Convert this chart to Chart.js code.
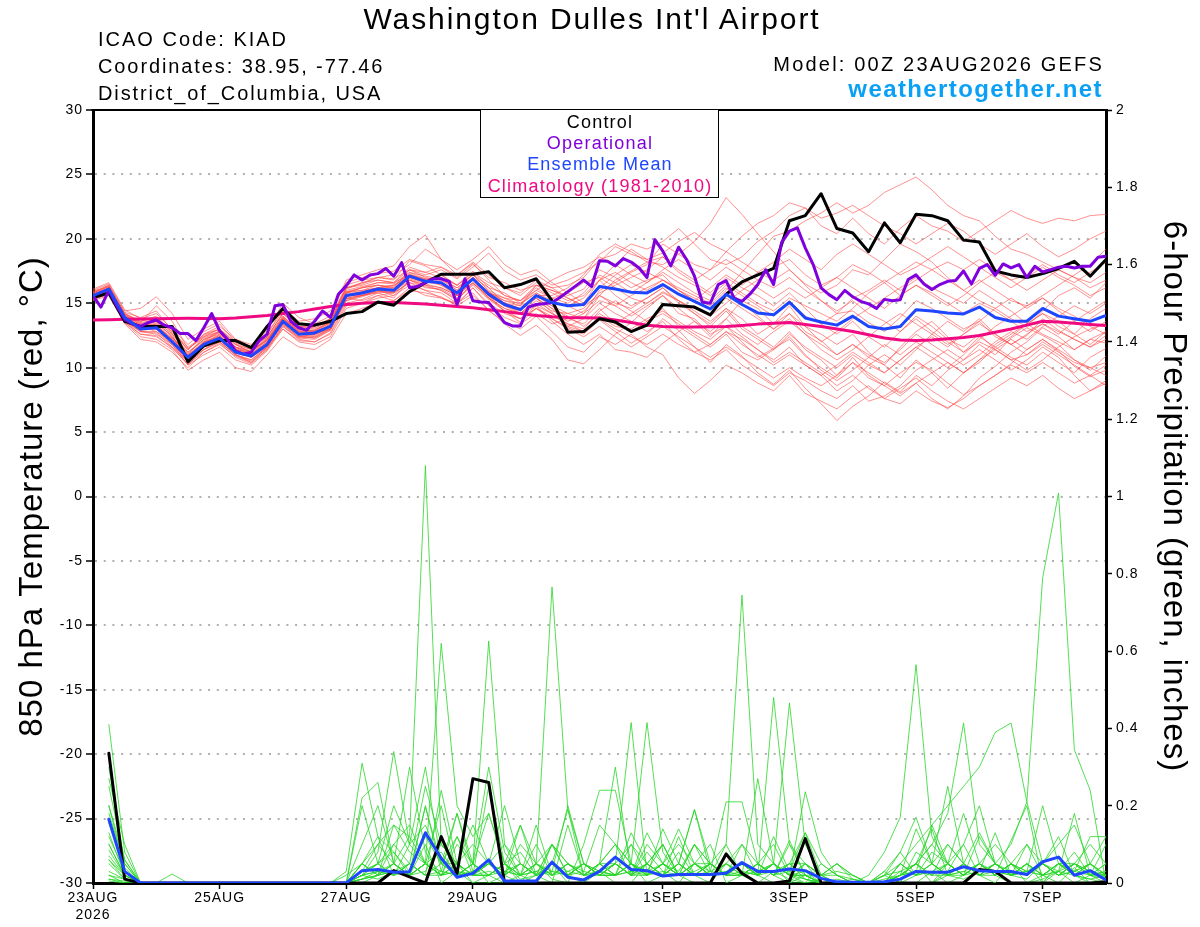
<!DOCTYPE html>
<html><head><meta charset="utf-8">
<script src="https://cdn.jsdelivr.net/npm/chart.js@4.4.1/dist/chart.umd.min.js"></script>
<style>
html,body{margin:0;padding:0;background:#fff;}
#wrap{position:relative;width:1200px;height:927px;overflow:hidden;font-family:"Liberation Sans",Arial,Helvetica,sans-serif;color:#000;}
#c{position:absolute;left:0;top:0;}
.t{position:absolute;white-space:nowrap;line-height:1;}
.lg{left:480px;width:240px;text-align:center;font-size:18px;letter-spacing:1.2px;}
</style></head><body>
<div id="wrap">
<canvas id="c" width="1200" height="927"></canvas>
<div class="t" style="left:0;width:1184px;text-align:center;top:4px;font-size:30px;letter-spacing:1.9px;">Washington Dulles Int'l Airport</div>
<div class="t" style="left:98px;top:29px;font-size:20px;letter-spacing:2px;">ICAO Code: KIAD</div>
<div class="t" style="left:98px;top:56px;font-size:20px;letter-spacing:1.9px;">Coordinates: 38.95, -77.46</div>
<div class="t" style="left:98px;top:83px;font-size:20px;letter-spacing:1.9px;">District_of_Columbia, USA</div>
<div class="t" style="right:96px;top:54px;font-size:20px;letter-spacing:2.2px;">Model: 00Z 23AUG2026 GEFS</div>
<div class="t" style="right:97px;top:77px;font-size:24px;font-weight:bold;letter-spacing:1.4px;color:#0aa0f5;">weathertogether.net</div>
<div style="position:absolute;left:480px;top:109px;width:237px;height:87px;border:1.5px solid #000;background:#fff;"></div>
<div class="t lg" style="top:113px;color:#000;">Control</div>
<div class="t lg" style="top:134px;color:rgb(127,0,220);">Operational</div>
<div class="t lg" style="top:155px;color:rgb(30,70,255);">Ensemble Mean</div>
<div class="t lg" style="top:176.5px;color:rgb(240,10,130);">Climatology (1981-2010)</div>
</div>
<script>
// ---------- time categories ----------
const hours6 = Array.from({length:65},(_,i)=>6*i);        // 0..384 h
const hours3 = Array.from({length:129},(_,i)=>3*i);       // 0..384 h
const precipHours = Array.from({length:64},(_,i)=>6*(i+1)); // 6..384 h
const tickHours = [0,48,96,144,216,264,312,360];
const tickLabels = [['23AUG','2026'],'25AUG','27AUG','29AUG','1SEP','3SEP','5SEP','7SEP'];

// ---------- 850 hPa temperature (°C) ----------
const tempControl = [15.44,15.8,13.6,13.2, 13.2,13.2,10.45,11.7, 12.1,12.1,11.55,13.2, 14.6,13.4,13.3,13.6, 14.2,14.35,15.1,14.85, 15.9,16.6,17.25,17.25, 17.25,17.45,16.2,16.45, 16.9,15.2,12.75,12.8, 13.8,13.55,12.8,13.3, 14.9,14.8,14.7,14.1, 15.7,16.65,17.2,17.7, 21.4,21.8,23.5,20.8, 20.45,19.0,21.24,19.7, 21.9,21.8,21.4,19.9, 19.75,17.5,17.2,17.0, 17.3,17.7,18.25,17.1, 18.4];
const tempMean = [15.6,16.1,13.9,13.0, 13.1,12.0,10.8,11.8, 12.3,11.2,10.9,11.8, 13.6,12.6,12.7,13.2, 15.6,15.8,16.1,16.0, 17.1,16.7,16.6,15.8, 16.9,15.7,14.9,14.5, 15.6,15.05,14.8,14.9, 16.3,16.1,15.85,15.8, 16.45,15.7,15.15,14.56, 15.7,14.9,14.25,14.1, 15.08,13.86,13.55,13.3, 14.0,13.2,13.0,13.2, 14.5,14.4,14.25,14.17, 14.7,13.9,13.6,13.6, 14.6,14.0,13.8,13.6, 14.05];
const tempClimo = [13.7,13.72,13.75,13.78, 13.8,13.82,13.83,13.82, 13.8,13.85,13.95,14.05, 14.2,14.35,14.55,14.75, 14.9,15.0,15.05,15.05, 15.0,14.95,14.85,14.75, 14.65,14.5,14.35,14.2, 14.05,13.95,13.9,13.88, 13.85,13.7,13.5,13.3, 13.2,13.15,13.15,13.18, 13.2,13.28,13.38,13.45, 13.5,13.35,13.2,13.0, 12.8,12.55,12.3,12.15, 12.1,12.15,12.25,12.35, 12.5,12.75,13.0,13.3, 13.6,13.55,13.45,13.35, 13.27];
const tempOper = [15.57,14.7,16.0,14.8,13.75,13.4,13.2,13.5, 13.7,13.3,13.1,12.65,12.65,12.1,13.1,14.2, 12.85,12.2,11.3,11.05,11.2,12.1,12.6,14.8, 14.9,13.6,13.1,12.9,13.6,14.4,13.9,15.7, 16.35,17.2,16.8,17.2,17.3,17.7,17.1,18.15, 16.2,16.3,16.6,16.9,16.9,16.7,14.9,16.9, 15.2,15.1,15.05,14.3,13.5,13.24,13.24,14.7, 14.9,14.97,15.05,15.45,15.9,16.35,16.8,16.3, 18.3,18.26,17.9,18.47,18.2,17.74,17.0,19.94, 19.04,17.9,19.35,18.4,17.1,15.08,15.0,16.45, 16.76,15.4,15.15,15.7,16.45,17.6,16.45,19.7, 20.6,20.85,19.3,18.0,16.2,15.67,15.28,16.0, 15.5,15.15,14.95,14.6,15.3,15.2,15.28,16.84, 17.2,16.5,16.06,16.45,16.7,16.76,17.5,16.5, 17.7,18.0,17.17,18.05,17.74,18.0,17.0,17.87, 17.43,17.6,17.8,17.87,17.74,17.87,17.87,18.57, 18.65];

// ensemble members (6-hourly)
const t01 = [15.8,16.4,14.2,13.5, 14.8,13.6,11.5,12.3, 12.8,11.8,11.2,12.4, 14.2,13.0,12.8,13.5, 16.2,16.5,17.0,16.8, 18.3,17.9,17.2,16.4, 17.5,16.2,15.0,14.2, 15.4,14.3,13.2,13.8, 15.6,16.8,17.5,18.2, 18.0,18.8,19.8,21.2, 23.2,21.9,20.4,19.0, 17.6,16.4,15.2,14.2, 14.4,13.5,12.8,13.9, 15.2,14.6,13.8,13.0, 13.6,12.4,11.8,12.5, 13.8,12.9,12.2,11.6, 12.5];
const t02 = [15.4,15.9,13.7,12.8, 12.6,11.8,10.2,11.0, 11.6,10.6,10.2,11.3, 13.0,12.1,12.0,12.7, 15.0,15.3,15.8,15.4, 16.8,16.2,16.1,15.4, 16.5,15.6,14.4,13.5, 14.6,13.8,13.1,12.6, 13.7,12.8,11.9,12.6, 13.8,12.9,11.6,10.4, 11.8,10.9,9.6,8.7, 9.8,8.4,7.2,5.9, 7.0,7.8,8.9,8.1, 9.4,8.6,9.8,10.6, 11.8,11.0,12.3,13.1, 12.5,11.8,10.6,9.8, 10.9];
const t03 = [16.0,16.5,14.4,14.6, 15.5,14.2,12.2,13.0, 13.6,12.2,11.6,12.9, 15.0,13.9,13.4,14.0, 16.8,17.2,17.6,17.9, 19.4,20.3,18.4,17.2, 18.1,16.8,15.6,15.2, 16.4,16.0,15.6,16.1, 17.6,17.0,16.2,16.8, 17.2,16.0,15.4,14.8, 16.0,17.4,18.8,20.2, 20.6,21.4,22.0,22.8, 22.0,22.6,23.6,24.2, 24.8,23.8,22.6,21.8, 21.4,20.2,19.2,18.8, 18.2,17.6,17.0,16.6, 17.4];
const t04 = [15.3,15.7,13.5,12.4, 12.2,11.4,9.8,10.6, 11.2,10.0,9.7,11.0, 12.4,11.6,11.4,12.2, 14.2,14.6,15.0,15.2, 16.0,15.8,15.5,14.8, 15.6,14.5,13.4,12.5, 13.3,12.2,10.6,10.3, 11.4,12.6,13.5,14.6, 15.6,14.2,13.8,12.6, 13.2,12.0,10.8,11.5, 12.2,10.9,10.0,9.2, 10.4,9.2,8.6,9.6, 10.4,9.8,8.8,7.9, 8.6,9.4,10.3,11.4, 12.2,11.3,10.1,9.3, 9.8];
const t05 = [15.7,16.2,14.0,13.1, 13.6,12.6,11.2,12.2, 12.6,11.5,11.0,12.0, 13.8,12.9,13.2,13.8, 16.1,16.6,17.0,16.9, 17.6,17.2,17.6,16.9, 17.8,18.9,17.5,16.8, 17.2,16.4,16.8,17.4, 18.2,19.4,18.8,18.4, 18.9,19.8,20.5,19.6, 19.0,18.2,17.4,16.8, 17.6,16.5,15.8,16.4, 17.6,17.2,18.4,19.6, 19.0,18.2,17.0,16.0, 15.2,14.6,13.8,13.2, 14.4,15.6,16.2,15.4, 16.6];
const t06 = [15.5,16.0,13.8,13.0, 13.4,12.5,10.6,11.6, 12.4,11.4,11.2,12.2, 13.4,12.4,12.6,13.0, 15.4,15.2,15.6,15.8, 16.6,16.0,15.4,14.9, 16.2,15.0,14.2,13.8, 14.8,13.6,12.6,11.8, 12.6,11.4,11.2,10.8, 11.9,12.8,13.6,12.4, 13.8,15.2,14.6,13.4, 14.2,12.8,12.1,11.0, 11.8,10.8,10.2,11.6, 12.8,13.6,12.4,11.2, 12.4,11.6,10.8,10.2, 11.2,10.4,9.6,10.8, 11.5];
const t07 = [15.9,16.3,14.1,13.3, 13.0,12.3,11.0,12.4, 13.0,11.9,11.4,12.1, 14.0,12.8,12.6,13.4, 15.9,16.0,16.4,16.3, 17.4,16.9,17.0,16.0, 17.3,15.9,15.2,15.0, 16.0,15.4,15.8,16.6, 17.0,16.2,15.4,15.0, 15.9,15.2,14.4,13.6, 14.6,13.2,12.4,11.6, 12.8,11.4,10.6,9.4, 10.8,9.4,8.6,7.8, 8.8,7.6,6.8,7.8, 9.2,10.1,11.2,12.0, 13.1,12.4,11.4,12.2, 11.9];
const t08 = [15.6,16.1,13.6,12.9, 13.4,12.0,10.4,11.4, 12.0,11.0,10.4,11.6, 13.6,12.5,12.3,13.0, 15.2,15.6,16.0,15.6, 16.8,16.4,16.0,15.2, 16.6,15.4,14.6,14.2, 15.2,14.4,14.2,14.6, 15.8,16.4,17.0,17.6, 18.6,17.4,16.6,15.8, 17.0,16.2,15.6,14.8, 15.8,14.6,13.4,12.6, 13.6,12.4,11.6,12.8, 14.0,13.2,12.2,11.6, 12.6,11.4,10.6,11.0, 12.0,11.2,10.4,10.0, 10.4];
const t09 = [15.2,15.6,13.4,12.2, 12.0,11.2,10.0,11.2, 11.9,10.8,10.3,11.4, 13.2,12.2,12.0,12.6, 14.8,15.0,15.4,15.6, 16.4,16.0,15.8,15.0, 16.2,14.8,13.9,13.4, 14.2,13.4,13.8,14.4, 15.6,15.0,14.6,15.4, 16.2,15.2,14.2,13.4, 14.6,13.8,12.6,13.4, 14.8,13.2,12.6,11.8, 12.6,11.2,10.2,9.2, 10.6,9.6,8.4,9.6, 10.6,11.8,12.6,13.4, 14.2,13.6,12.6,11.8, 12.8];
const t10 = [16.1,16.6,14.5,13.8, 14.2,13.0,11.8,12.8, 13.4,12.0,11.6,12.6, 14.6,13.6,13.8,14.4, 16.6,17.0,17.3,17.5, 18.4,18.0,17.8,17.2, 18.2,17.2,16.2,15.6, 16.6,16.2,16.4,17.0, 18.4,18.8,19.6,19.2, 19.8,20.8,19.6,18.4, 18.0,18.6,19.8,20.6, 21.8,22.4,21.0,20.4, 21.6,20.4,19.6,20.8, 21.8,21.0,20.6,19.8, 20.6,21.4,22.2,21.6, 21.2,21.6,21.4,21.8, 21.9];
const t11 = [15.5,15.9,13.9,12.9, 13.0,11.8,10.6,12.0, 12.8,11.2,10.8,11.9, 13.7,12.6,12.4,13.1, 15.5,15.7,16.2,16.4, 17.0,16.6,17.2,16.4, 17.2,16.0,15.4,14.9, 15.8,15.0,14.8,14.2, 15.2,14.8,15.6,16.2, 16.8,16.2,15.6,15.0, 16.2,15.0,14.0,13.0, 14.2,13.2,12.0,12.8, 13.8,14.6,15.4,16.2, 17.0,16.2,15.6,15.0, 16.0,15.2,14.4,13.4, 12.6,12.0,11.4,12.2, 12.8];
const t12 = [15.8,16.3,14.3,13.9, 14.4,12.9,11.4,12.6, 13.2,12.2,11.8,12.6, 14.4,13.2,13.0,13.8, 16.4,16.8,17.0,17.2, 18.0,19.2,18.4,17.6, 18.4,19.4,18.0,17.2, 17.6,16.6,15.8,15.0, 16.8,18.0,19.2,18.4, 17.8,17.0,16.4,15.6, 16.6,15.8,15.0,14.4, 15.4,14.8,14.2,13.6, 14.6,15.8,16.6,17.4, 18.2,17.6,16.8,16.0, 16.8,16.0,15.2,14.8, 15.6,16.4,17.2,18.0, 19.2];
const t13 = [15.3,15.8,13.6,12.6, 12.4,11.6,10.2,11.4, 12.2,11.0,10.6,11.6, 13.0,12.0,11.8,12.4, 14.6,15.0,15.6,15.2, 16.2,15.6,15.4,15.0, 15.8,14.4,13.6,13.0, 14.0,12.8,11.6,11.2, 12.4,11.8,12.6,11.6, 11.0,9.2,8.0,9.0, 10.2,9.6,8.8,8.2, 9.4,8.0,7.4,6.8, 7.8,8.6,7.6,8.4, 9.2,8.2,7.4,6.8, 7.6,8.4,9.2,8.6, 9.4,8.4,7.6,8.2, 9.0];
const t14 = [15.6,16.0,14.0,13.4, 13.8,12.8,11.6,12.4, 12.8,11.8,11.2,12.2, 13.8,12.8,12.9,13.5, 15.8,16.2,16.6,16.6, 17.2,16.8,16.8,16.2, 17.0,15.6,15.0,14.6, 15.6,14.8,13.8,13.4, 14.6,13.4,12.8,13.6, 14.6,13.2,12.4,11.6, 12.6,11.2,10.6,11.4, 12.4,11.0,9.8,9.0, 9.8,10.8,11.8,11.0, 12.0,11.2,10.4,9.6, 10.4,11.6,12.4,13.4, 14.2,13.2,12.6,13.8, 14.6];
const t15 = [15.4,15.9,13.8,13.2, 12.8,12.0,10.9,12.0, 12.4,11.4,10.8,11.7, 13.4,12.4,12.5,13.2, 15.6,15.6,15.8,15.9, 17.2,16.8,16.6,15.8, 16.8,15.4,14.6,14.2, 14.8,14.2,13.6,14.2, 16.0,16.6,17.4,18.0, 19.6,18.8,18.0,17.6, 19.0,20.2,21.2,21.8, 22.8,22.4,21.6,22.0, 22.6,21.8,21.0,20.4, 19.6,20.4,21.2,20.6, 19.6,18.8,19.6,20.4, 19.4,18.6,19.2,20.0, 20.6];
const t16 = [15.7,16.2,14.1,13.4, 13.3,12.2,11.0,11.9, 12.5,11.3,11.0,12.0, 13.9,12.7,12.8,13.3, 15.7,15.9,16.2,16.2, 17.3,16.8,16.5,15.6, 16.8,15.8,15.2,14.8, 15.4,14.6,13.2,12.8, 14.0,13.2,13.0,13.8, 14.4,13.6,12.8,12.2, 13.2,12.4,11.4,10.6, 11.6,10.2,9.4,8.2, 9.0,10.2,11.0,10.2, 11.4,12.6,13.6,12.8, 13.8,12.6,11.8,12.6, 13.4,12.6,13.6,14.4, 15.2];
const t17 = [15.5,16.0,13.7,12.8, 12.7,11.6,10.5,11.6, 12.0,11.0,10.5,11.5, 13.3,12.3,12.4,13.0, 15.3,15.6,16.0,16.0, 16.9,16.5,16.2,15.6, 16.6,15.5,14.8,14.4, 15.6,15.6,16.2,17.2, 18.8,19.6,19.0,18.2, 18.6,17.6,16.8,17.6, 18.4,17.6,16.8,17.8, 18.4,17.2,16.4,17.0, 18.0,17.4,16.6,15.6, 16.4,15.8,15.0,14.2, 15.0,14.4,13.6,12.8, 13.4,12.8,12.2,11.6, 12.2];
const t18 = [15.9,16.4,14.2,13.6, 13.9,12.7,11.4,12.6, 13.0,11.8,11.4,12.4, 14.2,13.2,13.2,13.8, 16.2,16.4,16.8,16.6, 17.6,17.4,17.8,17.0, 18.0,17.0,16.6,16.0, 16.4,15.8,15.2,15.6, 16.8,15.6,14.8,15.4, 16.2,15.0,14.2,13.2, 14.4,13.0,12.2,11.4, 12.6,11.6,10.8,10.0, 11.0,10.2,9.6,10.6, 11.6,10.8,10.0,11.0, 12.2,13.2,14.0,14.8, 15.4,14.6,14.0,13.2, 12.6];
const t19 = [15.4,15.8,13.9,13.1, 13.2,12.2,10.8,11.6, 12.1,11.2,10.8,11.6, 13.5,12.6,12.6,13.0, 15.4,15.6,16.0,15.8, 17.0,16.8,16.6,15.8, 16.8,15.8,15.4,15.2, 16.0,16.8,17.4,17.8, 18.6,18.0,17.2,16.6, 17.4,16.6,15.8,15.2, 16.4,15.6,14.8,14.0, 15.2,14.0,13.4,14.2, 15.4,16.0,16.8,16.0, 16.8,17.6,18.2,17.6, 18.4,17.6,16.8,17.2, 18.0,17.2,16.6,17.4, 18.2];
const t20 = [15.6,16.1,13.8,13.0, 13.5,12.4,11.0,12.0, 12.5,11.4,11.0,11.9, 13.6,12.6,12.7,13.2, 15.6,15.8,16.1,16.0, 17.1,16.7,16.4,15.6, 16.8,15.6,14.9,14.6, 15.6,14.8,14.2,13.8, 15.0,14.2,13.6,12.8, 13.6,12.2,11.2,10.6, 11.4,10.2,9.4,8.6, 9.6,9.0,8.2,7.6, 8.6,7.4,7.8,8.6, 9.8,10.6,11.4,10.6, 11.4,10.6,9.8,10.6, 11.6,10.8,9.4,8.2, 8.8];
const t21 = [15.5,16.0,13.9,13.3, 13.6,12.4,10.9,11.8, 12.4,11.6,11.3,12.1, 13.9,13.0,12.9,13.6, 15.9,16.2,16.4,16.2, 17.6,17.0,16.8,16.0, 17.0,16.2,15.8,15.0, 15.8,15.2,14.8,15.4, 16.8,17.4,16.6,16.0, 16.8,16.0,15.2,14.6, 15.4,14.6,13.8,13.0, 13.8,12.6,11.8,11.0, 11.8,11.0,10.4,11.4, 12.6,11.8,11.0,10.2, 11.0,12.0,12.8,12.2, 13.2,14.0,14.8,14.2, 15.0];
const t22 = [15.7,16.2,14.0,13.2, 13.0,12.0,10.7,11.9, 12.6,11.6,11.0,12.2, 13.8,12.7,12.6,13.4, 15.8,16.0,16.2,16.4, 17.2,16.9,16.4,15.9, 16.8,15.9,15.0,14.6, 15.4,14.6,14.0,13.2, 14.2,13.4,14.2,15.0, 15.8,15.2,14.6,14.0, 15.0,16.0,16.8,16.2, 17.0,16.0,15.2,14.4, 15.2,14.2,13.6,12.8, 13.8,12.8,12.0,11.2, 12.0,11.4,10.6,9.8, 10.6,11.6,12.4,13.0, 13.4];
const t23 = [15.4,15.8,13.5,12.6, 12.5,11.5,10.3,11.2, 11.8,10.9,10.4,11.4, 13.2,12.3,12.2,12.9, 15.2,15.5,15.9,15.8, 16.6,16.3,16.0,15.3, 16.4,15.3,14.4,13.8, 14.6,14.0,13.4,12.8, 13.8,13.0,12.4,11.8, 12.6,11.8,11.2,11.8, 12.8,12.2,11.4,10.4, 11.2,10.4,9.6,8.6, 9.4,8.4,7.6,7.2, 8.2,7.4,6.9,7.6, 8.6,9.4,10.2,9.6, 10.4,9.6,8.8,9.4, 10.2];
const t24 = [15.8,16.3,14.1,13.5, 13.7,12.6,11.1,12.2, 12.7,11.6,11.1,12.0, 13.8,12.8,12.8,13.5, 16.0,16.3,16.6,16.5, 17.4,17.1,16.9,16.2, 17.2,16.4,15.6,15.2, 16.2,15.4,15.0,15.8, 17.2,16.6,15.8,16.6, 17.6,18.4,17.6,16.8, 17.8,17.0,16.2,15.4, 16.2,15.4,16.2,17.0, 16.2,15.4,14.6,15.6, 16.4,15.6,14.8,15.6, 16.6,17.4,16.8,16.0, 16.8,17.6,17.0,16.2, 16.8];
const t25 = [15.6,16.1,13.8,13.1, 13.2,12.1,10.8,11.8, 12.2,11.2,10.9,11.8, 13.6,12.6,12.6,13.2, 15.6,15.9,16.2,16.0, 17.0,16.6,16.6,15.9, 16.8,15.6,14.8,14.2, 15.0,14.2,13.4,13.0, 14.4,15.2,14.4,13.6, 14.2,13.4,12.6,11.8, 12.8,11.8,11.0,10.2, 11.0,10.2,9.4,10.2, 11.2,10.4,9.6,10.6, 11.6,12.4,11.6,12.6, 13.4,12.6,11.8,11.0, 11.8,11.0,10.2,9.4, 8.6];
const t26 = [15.5,16.0,14.0,13.0, 13.3,12.3,11.2,12.1, 12.9,11.6,11.2,12.3, 14.0,12.9,12.9,13.6, 15.8,16.2,16.4,16.1, 17.2,16.7,16.6,15.6, 17.0,15.8,15.0,14.8, 16.4,16.0,15.4,14.8, 15.6,14.8,14.0,14.8, 15.6,14.6,13.6,12.8, 13.8,12.6,11.8,12.8, 13.6,12.6,11.4,10.6, 11.4,12.4,13.4,14.2, 13.4,12.6,11.8,12.6, 13.6,14.6,15.4,14.6, 15.4,14.4,13.6,12.8, 13.6];
const t27 = [15.6,16.2,14.2,13.6, 14.0,12.8,11.4,12.5, 13.0,12.0,11.6,12.4, 14.2,13.2,13.1,13.6, 16.2,16.6,16.8,16.6, 17.8,17.4,17.0,16.4, 17.4,16.6,16.2,15.8, 16.8,16.2,15.4,14.8, 16.2,17.2,18.0,17.4, 16.8,16.0,15.2,16.2, 17.2,16.4,17.4,18.2, 19.2,18.4,17.6,18.8, 19.6,18.8,18.0,17.2, 17.8,18.6,19.4,18.6, 17.8,17.0,16.2,17.0, 17.8,17.0,16.4,15.6, 16.2];
const t28 = [15.3,15.7,13.6,12.8, 12.8,11.8,10.4,11.4, 12.0,11.0,10.6,11.6, 13.4,12.4,12.3,12.9, 15.4,15.6,15.9,15.9, 16.8,16.4,16.2,15.6, 16.6,15.4,14.4,13.8, 14.6,13.8,13.0,12.4, 13.2,12.4,11.6,12.4, 13.2,12.4,11.6,10.8, 11.6,10.8,10.0,9.2, 10.0,9.2,8.6,9.4, 10.4,9.6,8.8,8.0, 8.8,9.6,10.4,9.6, 10.6,11.4,12.2,11.4, 12.2,11.4,10.6,10.0, 9.4];
const tempMembers = [t01,t02,t03,t04,t05,t06,t07,t08,t09,t10,t11,t12,t13,t14,t15,t16,t17,t18,t19,t20,t21,t22,t23,t24,t25,t26,t27,t28];

// ---------- 6-hour precipitation (inches), 6h..384h ----------
const precipControl = [0.336,0.01,0,0,0,0,0,0, 0,0,0,0,0,0,0,0, 0,0,0.032,0.016,0,0.12,0.025,0.27, 0.26,0,0,0,0,0,0,0, 0,0,0,0,0,0,0,0.075, 0.025,0,0,0.005,0.115,0,0,0, 0,0,0,0,0,0,0,0.035, 0.03,0,0,0,0,0,0,0.003];
const precipMean = [0.165,0.03,0,0,0,0,0,0, 0,0,0,0,0,0,0,0, 0.032,0.035,0.028,0.029,0.13,0.064,0.015,0.025, 0.06,0.005,0.005,0.005,0.054,0.015,0.008,0.03, 0.067,0.035,0.032,0.018,0.022,0.022,0.022,0.025, 0.053,0.03,0.03,0.036,0.032,0.012,0.003,0.002, 0.002,0.003,0.01,0.03,0.028,0.028,0.042,0.032, 0.03,0.03,0.022,0.055,0.067,0.02,0.032,0.008];
const p01 = [0.41,0.08,0,0,0,0,0,0, 0,0,0,0,0,0,0,0.02, 0.05,0.1,0.15,0.12,1.08,0.1,0.05,0, 0,0.02,0,0,0.05,0,0,0.03, 0,0,0.05,0.1,0.02,0,0,0.05, 0.1,0.02,0,0,0,0.01,0,0, 0,0,0,0,0.03,0,0.02,0.05, 0.02,0,0,0.01,0.03,0.08,0.02,0];
const p02 = [0.3,0.05,0,0,0,0,0,0, 0,0,0,0,0,0,0,0.03, 0.31,0.12,0.08,0.02,0.1,0,0.03,0, 0.02,0,0,0.05,0.01,0,0.1,0.24, 0.24,0.05,0,0.02,0.12,0.02,0,0.08, 0.02,0,0.03,0.01,0,0.05,0.02,0, 0,0,0.02,0.05,0,0.03,0.1,0.02, 0,0.05,0,0.02,0,0.04,0,0];
const p03 = [0.25,0.06,0,0,0.023,0,0,0, 0,0,0,0,0,0,0,0, 0.02,0.08,0.34,0.1,0.05,0.2,0.02,0.05, 0,0,0.02,0,0.1,0.02,0,0.05, 0.3,0.02,0.08,0.03,0,0.05,0.1,0, 0.02,0.27,0.05,0,0.02,0,0,0.01, 0,0.02,0,0.08,0.05,0.02,0.01,0.03, 0.13,0.02,0.05,0,0.05,0.02,0,0];
const p04 = [0.2,0.04,0,0,0,0,0,0, 0,0,0,0,0,0,0,0, 0.05,0.02,0.15,0.08,0.05,0.62,0.2,0.12, 0.18,0.05,0,0.02,0,0.15,0.02,0.05, 0.1,0.02,0.02,0.14,0.05,0.19,0.03,0.21, 0.21,0.05,0.02,0,0.05,0.02,0,0, 0,0.03,0,0,0,0.05,0.18,0.05, 0.02,0.11,0.2,0,0.03,0,0.02,0.05];
const p05 = [0.155,0.03,0,0,0,0,0,0, 0,0,0,0,0,0,0,0, 0.22,0.26,0.05,0.02,0.2,0.03,0.18,0.05, 0.626,0.1,0.02,0.05,0.03,0.02,0.05,0.02, 0.05,0.02,0.13,0.05,0.02,0.1,0.05,0.02, 0.05,0.02,0.12,0.03,0.13,0.05,0.02,0, 0,0.02,0.08,0.02,0.03,0.02,0.02,0.12, 0.05,0.02,0.01,0.05,0.12,0.02,0.01,0];
const p06 = [0.13,0.02,0,0,0,0,0,0, 0,0,0,0,0,0,0,0, 0.03,0.05,0.02,0.1,0.15,0.05,0.02,0.03, 0.05,0.02,0.15,0.05,0.766,0.19,0.02,0.05, 0.05,0.1,0.02,0.05,0.02,0.02,0.05,0.02, 0.02,0.05,0.02,0.11,0.02,0.02,0.05,0.01, 0,0,0.02,0.05,0.14,0.02,0.03,0.05, 0.02,0.05,0.03,0.2,0.05,0.02,0.05,0.02];
const p07 = [0.085,0.02,0,0,0,0,0,0, 0,0,0,0,0,0,0,0, 0.01,0.03,0.05,0.12,0.05,0.02,0.1,0.05, 0.02,0.05,0.01,0.02,0.03,0.2,0.05,0.03, 0.05,0.415,0.02,0.05,0.03,0.1,0.02,0.05, 0.02,0.03,0.05,0.02,0.236,0.08,0.02,0, 0,0,0,0,0,0.02,0.05,0.02, 0.03,0.02,0.05,0.02,0.03,0.18,0.02,0.03];
const p08 = [0.06,0.01,0,0,0,0,0,0, 0,0,0,0,0,0,0,0, 0.02,0.05,0.08,0.03,0.12,0.05,0.05,0.02, 0.05,0.03,0.05,0.02,0.05,0.02,0.03,0.15, 0.1,0.05,0.415,0.08,0.02,0.05,0.03,0.02, 0.05,0.02,0.03,0.05,0.13,0.02,0.05,0.02, 0,0.03,0.08,0.17,0.05,0.02,0.03,0.02, 0.05,0.03,0.02,0.05,0.02,0.03,0.05,0.02];
const p09 = [0.01,0.005,0,0,0,0,0,0, 0,0,0,0,0,0,0,0, 0,0.02,0.05,0.02,0.03,0.1,0.05,0.02, 0.25,0.05,0.02,0.03,0.05,0.02,0.05,0.02, 0.02,0.05,0.03,0.1,0.02,0.05,0.05,0.1, 0.745,0.1,0.05,0.02,0.05,0.02,0.02,0.01, 0,0,0.02,0.03,0.15,0.05,0.02,0.05, 0.03,0.02,0.05,0.02,0.05,0.03,0.05,0.12];
const p10 = [0.05,0.01,0,0,0,0,0,0, 0,0,0,0,0,0,0,0, 0.05,0.02,0.03,0.05,0.02,0.05,0.18,0.03, 0.05,0.03,0.02,0.15,0.02,0.05,0.02,0.02, 0.05,0.02,0.05,0.02,0.05,0.02,0.03,0.05, 0.03,0.02,0.48,0.1,0.05,0.02,0.03,0.02, 0,0.02,0.03,0.02,0.05,0.25,0.05,0.02, 0.05,0.02,0.03,0.05,0.02,0.05,0.03,0.02];
const p11 = [0.1,0.02,0,0,0,0,0,0, 0,0,0,0,0,0,0,0, 0.02,0.03,0.02,0.05,0.02,0.02,0.05,0.02, 0.05,0.02,0.05,0.02,0.1,0.05,0.02,0.05, 0.02,0.05,0.02,0.05,0.1,0.05,0.02,0.05, 0.02,0.03,0.05,0.466,0.1,0.02,0.05,0.02, 0,0.01,0.02,0.05,0.02,0.02,0.05,0.13, 0.05,0.02,0.05,0.02,0.03,0.05,0.02,0.03];
const p12 = [0.03,0.01,0,0,0,0,0,0, 0,0,0,0,0,0,0,0, 0.01,0.02,0.05,0.02,0.05,0.03,0.02,0.05, 0.02,0.05,0.02,0.05,0.02,0.05,0.02,0.03, 0.02,0.03,0.05,0.02,0.05,0.02,0.05,0.02, 0.05,0.02,0.05,0.02,0.02,0,0,0, 0.02,0.08,0.17,0.565,0.12,0.05,0.02,0.03, 0.05,0.02,0.03,0.05,0.02,0.05,0.02,0.05];
const p13 = [0.02,0,0,0,0,0,0,0, 0,0,0,0,0,0,0,0, 0.02,0.01,0.03,0.02,0.05,0.02,0.03,0.02, 0.03,0.02,0.05,0.02,0.03,0.02,0.05,0.02, 0.05,0.02,0.03,0.05,0.02,0.02,0.05,0.02, 0.02,0.05,0.02,0.03,0.01,0,0,0, 0,0,0.03,0.05,0.1,0.18,0.414,0.1, 0.05,0.02,0.03,0.02,0.05,0.02,0.01,0.02];
const p14 = [0.01,0,0,0,0,0,0,0, 0,0,0,0,0,0,0,0, 0.02,0.03,0.02,0.05,0.02,0.03,0.02,0.05, 0.02,0.03,0.02,0.05,0.02,0.03,0.02,0.05, 0.02,0.05,0.02,0.03,0.02,0.05,0.02,0.03, 0.02,0.05,0.02,0.05,0.01,0,0,0, 0,0.02,0.05,0.1,0.15,0.2,0.25,0.3, 0.39,0.414,0.21,0.05,0.02,0.03,0.02,0.01];
const p15 = [0.005,0,0,0,0,0,0,0, 0,0,0,0,0,0,0,0, 0.01,0.02,0.03,0.02,0.05,0.02,0.03,0.02, 0.02,0.05,0.02,0.03,0.02,0.05,0.02,0.03, 0.02,0.03,0.02,0.05,0.02,0.03,0.05,0.02, 0.03,0.02,0.05,0.02,0.01,0,0,0, 0,0,0.02,0.03,0.02,0.05,0.1,0.2, 0.05,0.1,0.21,0.79,1.009,0.345,0.24,0];
const p16 = [0.27,0.1,0,0,0,0,0,0, 0,0,0,0,0,0,0,0, 0.05,0.02,0.1,0.05,0.02,0.24,0.05,0.02, 0.02,0.05,0.02,0.1,0.02,0.05,0.03,0.02, 0.02,0.05,0.02,0.05,0.14,0.05,0.02,0.03, 0.05,0.02,0.05,0.02,0,0,0.01,0, 0,0,0.05,0.02,0.03,0.05,0.02,0.05, 0.02,0.05,0.03,0.02,0.05,0.03,0.12,0.12];
const p17 = [0.2,0.06,0,0,0,0,0,0, 0,0,0,0,0,0,0,0, 0.03,0.05,0.02,0.03,0.197,0.05,0.02,0.05, 0.18,0.05,0.15,0.02,0.05,0.02,0.05,0.02, 0.02,0.13,0.05,0.02,0.05,0.02,0.05,0.02, 0.05,0.02,0.05,0.02,0.02,0,0,0, 0,0,0.02,0.05,0.02,0.05,0.02,0.05, 0.02,0.05,0.02,0.05,0.02,0.05,0.02,0.02];
const p18 = [0.1,0.02,0,0,0,0,0,0, 0,0,0,0,0,0,0,0, 0.2,0.05,0.1,0.15,0.05,0.02,0.05,0.1, 0.05,0.02,0.05,0.02,0.05,0.19,0.05,0.02, 0.05,0.02,0.05,0.02,0.05,0.19,0.05,0.02, 0.05,0.02,0.05,0.02,0.02,0,0,0, 0,0,0.02,0.14,0.05,0.02,0.05,0.02, 0.05,0.02,0.05,0.02,0.05,0.02,0.05,0.02];
const p19 = [0.06,0.02,0,0,0,0,0,0, 0,0,0,0,0,0,0,0, 0.03,0.1,0.05,0.02,0.05,0.08,0.02,0.03, 0.05,0.1,0.05,0.02,0.05,0.03,0.05,0.02, 0.05,0.02,0.05,0.1,0.02,0.05,0.02,0.05, 0.02,0.05,0.02,0.05,0.02,0,0,0, 0,0,0.05,0.02,0.08,0.05,0.02,0.05, 0.02,0.05,0.02,0.05,0.03,0.02,0.05,0.01];
const p20 = [0.02,0.01,0,0,0,0,0,0, 0,0,0,0,0,0,0,0, 0.01,0.02,0.05,0.02,0.05,0.02,0.05,0.02, 0.02,0.05,0.08,0.02,0.05,0.02,0.05,0.03, 0.02,0.05,0.03,0.02,0.05,0.02,0.05,0.02, 0.05,0.02,0.05,0.02,0.03,0,0,0, 0,0,0.05,0.02,0.05,0.02,0.05,0.02, 0.05,0.02,0.03,0.05,0.02,0.05,0.03,0.02];
const p21 = [0.12,0.03,0,0,0,0,0,0, 0,0,0,0,0,0,0,0, 0.1,0.2,0.05,0.3,0.08,0.02,0.12,0.05, 0.3,0.08,0.02,0.05,0.1,0.05,0.02,0.05, 0.02,0.1,0.05,0.02,0.08,0.02,0.05,0.02, 0.02,0.05,0.1,0.02,0.05,0,0,0, 0,0,0.02,0.05,0.1,0.05,0.02,0.05, 0.1,0.05,0.02,0.05,0.1,0.15,0.05,0.02];
const p22 = [0.18,0.05,0,0,0,0,0,0, 0,0,0,0,0,0,0,0, 0.02,0.05,0.2,0.1,0.3,0.05,0.12,0.02, 0.05,0.2,0.05,0.02,0.1,0.02,0.05,0.02, 0.05,0.02,0.1,0.05,0.02,0.05,0.02,0.1, 0.02,0.05,0.02,0.1,0.02,0,0,0, 0,0,0,0.02,0.05,0.1,0.05,0.02, 0.05,0.02,0.1,0.05,0.02,0.05,0.1,0.05];
const p23 = [0.07,0.02,0,0,0,0,0,0, 0,0,0,0,0,0,0,0, 0.05,0.12,0.02,0.05,0.25,0.1,0.05,0.15, 0.05,0.02,0.1,0.05,0.02,0.05,0.02,0.05, 0.1,0.05,0.02,0.05,0.02,0.1,0.05,0.02, 0.1,0.05,0.02,0.05,0.05,0.02,0,0, 0,0,0.02,0.05,0.02,0.1,0.05,0.02, 0.02,0.05,0.1,0.02,0.05,0.05,0.02,0.1];
const precipMembers = [p01,p02,p03,p04,p05,p06,p07,p08,p09,p10,p11,p12,p13,p14,p15,p16,p17,p18,p19,p20,p21,p22,p23];

// ---------- build chart ----------
const COL = {member:'rgba(255,70,70,0.75)', pmember:'rgb(40,215,40)', control:'#000', oper:'rgb(127,0,220)', mean:'rgb(30,70,255)', climo:'rgb(240,10,130)'};
const pts = (hrs, vals) => vals.map((v,i)=>({x:hrs[i], y:v}));
const datasets = [];
tempMembers.forEach(m => datasets.push({data:pts(hours6,m), yAxisID:'yT', borderColor:COL.member, borderWidth:0.8, order:30}));
precipMembers.forEach(m => datasets.push({data:pts(precipHours,m), yAxisID:'yP', borderColor:COL.pmember, borderWidth:0.8, order:30}));
datasets.push({data:pts(precipHours,precipControl), yAxisID:'yP', borderColor:COL.control, borderWidth:3, order:8});
datasets.push({data:pts(precipHours,precipMean), yAxisID:'yP', borderColor:COL.mean, borderWidth:3, order:7});
datasets.push({data:pts(hours6,tempClimo), yAxisID:'yT', borderColor:COL.climo, borderWidth:3, order:4});
datasets.push({data:pts(hours6,tempControl), yAxisID:'yT', borderColor:COL.control, borderWidth:3, order:3});
datasets.push({data:pts(hours3,tempOper), yAxisID:'yT', borderColor:COL.oper, borderWidth:3, order:2});
datasets.push({data:pts(hours6,tempMean), yAxisID:'yT', borderColor:COL.mean, borderWidth:3, order:1});

Chart.defaults.font.family = '"Liberation Sans", Arial, Helvetica, sans-serif';
Chart.defaults.color = '#000';

const spacingPlugin = {id:'spacing', beforeDraw(chart){ try{ chart.ctx.letterSpacing='1px'; }catch(e){} }};
const framePlugin = {id:'frame', afterDraw(chart){
  const {ctx, chartArea:a} = chart;
  ctx.save(); ctx.strokeStyle='#000'; ctx.lineWidth=2;
  ctx.beginPath(); ctx.moveTo(a.left-1.5, a.top); ctx.lineTo(a.right+1.5, a.top); ctx.stroke();
  ctx.restore();
}};

new Chart(document.getElementById('c'), {
  type:'line',
  data:{datasets},
  options:{
    responsive:false, animation:false, devicePixelRatio:1,
    layout:{padding:{top:110,left:0,right:0,bottom:0}},
    plugins:{legend:{display:false}, tooltip:{enabled:false}, title:{display:false}},
    elements:{point:{radius:0}, line:{tension:0, borderJoinStyle:'round', borderCapStyle:'round'}},
    scales:{
      x:{type:'linear', position:'bottom', min:0, max:384,
        afterBuildTicks:s=>{ s.ticks = tickHours.map(v=>({value:v})); },
        afterFit:s=>{ s.height = 44; },
        ticks:{autoSkip:false, maxRotation:0, minRotation:0, padding:1, font:{size:14}, color:'#000',
          callback:v=>{ const i = tickHours.indexOf(v); return i>=0 ? tickLabels[i] : ''; }},
        grid:{drawOnChartArea:false, drawTicks:true, tickLength:6, tickWidth:1.5, tickColor:'#000'},
        border:{display:true, color:'#000', width:3}
      },
      yT:{type:'linear', position:'left', min:-30, max:30,
        afterFit:s=>{ s.width = 93; },
        ticks:{stepSize:5, autoSkip:false, padding:3, font:{size:14}, color:'#000'},
        grid:{color:'#b0b0b0', lineWidth:2, drawTicks:true, tickLength:7, tickWidth:1.5, tickColor:'#000'},
        border:{display:true, color:'#000', width:3, dash:[2,6.7]},
        title:{display:true, text:'850 hPa Temperature (red, °C)', font:{size:33}, color:'#000', padding:{top:13, bottom:0}}
      },
      yP:{type:'linear', position:'right', min:0, max:2,
        afterFit:s=>{ s.width = 94; },
        ticks:{stepSize:0.2, autoSkip:false, padding:4, font:{size:14}, color:'#000',
          callback:v=>String(Number(v.toFixed(1)))},
        grid:{drawOnChartArea:false, drawTicks:true, tickLength:6, tickWidth:1.5, tickColor:'#000'},
        border:{display:true, color:'#000', width:3},
        title:{display:true, text:'6-hour Precipitation (green, inches)', font:{size:33}, color:'#000', padding:{top:7, bottom:0}}
      }
    }
  },
  plugins:[spacingPlugin, framePlugin]
});
</script>
</body></html>
